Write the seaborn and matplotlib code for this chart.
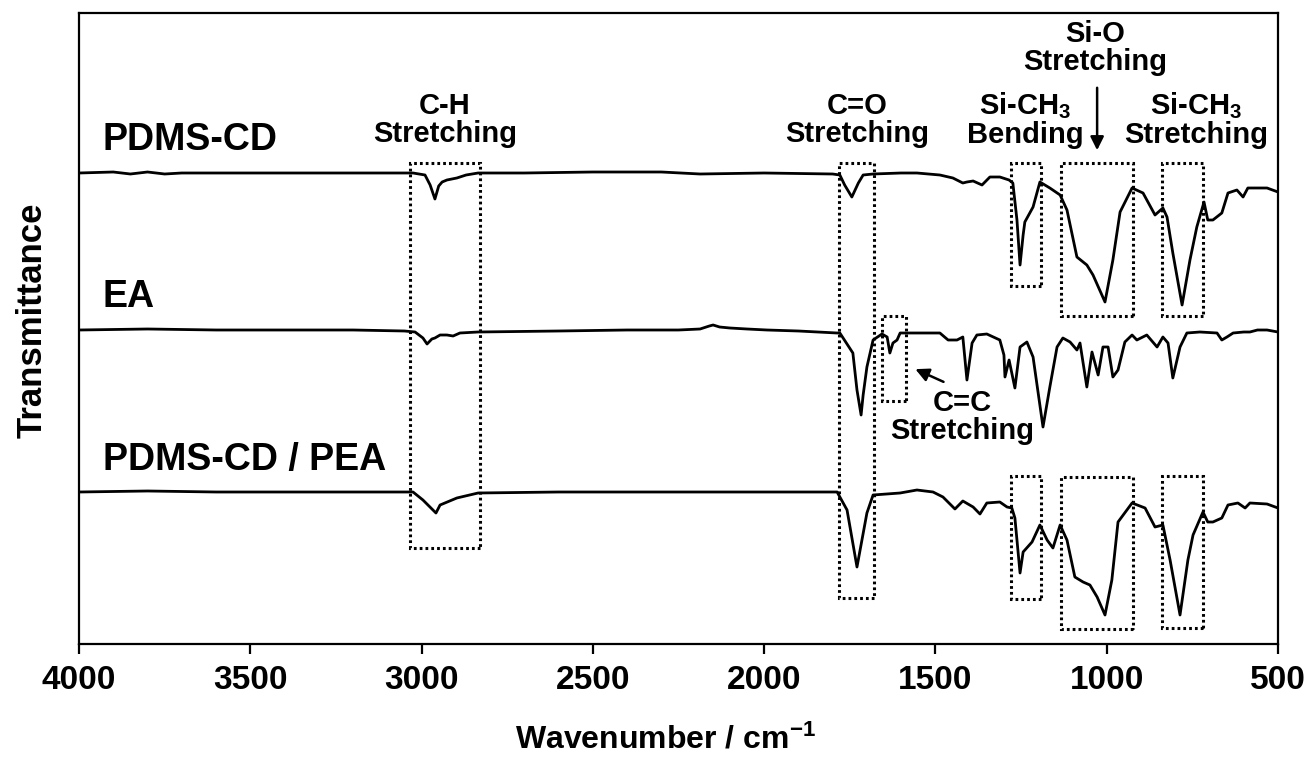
import matplotlib
matplotlib.use("Agg")
import matplotlib.pyplot as plt
from matplotlib.patches import Rectangle
import seaborn as sns
import pandas as pd

# ---------------- data ----------------
pdms_wn = [4000, 3900, 3850, 3800, 3750, 3700, 3600, 3400, 3200, 3025, 2990, 2975, 2961, 2950, 2940,
           2926, 2897, 2870, 2835, 2700, 2500, 2300, 2187, 2000, 1800, 1779, 1765, 1744, 1725, 1711,
           1682, 1600, 1554, 1487, 1449, 1420, 1408, 1390, 1364, 1341, 1312, 1285, 1274, 1262, 1253,
           1244, 1239, 1215, 1195, 1166, 1136, 1116, 1087, 1058, 1040, 1005, 982, 961, 926, 894, 859,
           836, 824, 807, 780, 757, 737, 716, 705, 690, 664, 646, 620, 602, 588, 532, 500]
pdms_T = [471, 472, 470, 472, 470, 471, 471, 471, 471, 471, 469, 459, 445, 458, 462,
          464, 466, 469, 471, 471, 472, 472, 470, 471, 470, 469, 459, 447, 461, 469,
          470, 471, 471, 469, 466, 461, 462, 463, 459, 467, 467, 464, 461, 424, 379,
          409, 422, 437, 462, 456, 449, 434, 387, 379, 369, 342, 384, 432, 456, 451, 429,
          436, 427, 391, 339, 384, 417, 442, 424, 424, 431, 451, 454, 447, 456, 456, 452]

ea_wn = [4000, 3800, 3600, 3400, 3200, 3050, 3019, 2996, 2984, 2970, 2961, 2946, 2926, 2908, 2888,
         2835, 2600, 2400, 2250, 2187, 2160, 2149, 2130, 2100, 2050, 1992, 1900, 1787, 1779, 1741,
         1729, 1717, 1711, 1700, 1682, 1656, 1641, 1633, 1624, 1612, 1603, 1487, 1463, 1437, 1420,
         1408, 1393, 1379, 1350, 1312, 1300, 1297, 1285, 1268, 1253, 1233, 1215, 1186, 1166, 1145,
         1128, 1107, 1087, 1078, 1058, 1043, 1025, 1011, 996, 982, 967, 947, 926, 912, 883, 853,
         836, 821, 807, 786, 766, 728, 678, 664, 649, 631, 600, 582, 560, 532, 500]
ea_T = [314, 315, 314, 314, 314, 313, 312, 306, 300, 305, 306, 309, 309, 308, 311,
        312, 313, 314, 314, 315, 318, 319, 317, 316, 315, 314, 313, 311, 311, 291,
        254, 229, 249, 277, 304, 310, 307, 291, 301, 304, 311, 311, 304, 304, 307,
        264, 301, 309, 310, 304, 289, 267, 284, 256, 297, 302, 287, 217, 257, 297,
        306, 302, 294, 301, 257, 292, 269, 297, 297, 267, 274, 302, 309, 304, 309, 297,
        307, 301, 266, 297, 311, 312, 311, 304, 307, 311, 312, 312, 314, 314, 312]

pea_wn = [4000, 3800, 3600, 3400, 3200, 3025, 2996, 2958, 2946, 2897, 2835, 2600, 2400, 2187, 2000,
          1787, 1758, 1729, 1700, 1682, 1603, 1554, 1507, 1478, 1443, 1420, 1390, 1370, 1350, 1312,
          1291, 1277, 1268, 1253, 1244, 1218, 1195, 1174, 1157, 1136, 1116, 1093, 1069, 1049, 1028,
          1005, 985, 967, 926, 888, 859, 836, 815, 786, 763, 748, 719, 705, 690, 664, 646, 617, 596,
          582, 532, 500]
pea_T = [152, 153, 152, 152, 152, 152, 144, 131, 139, 146, 151, 152, 152, 152, 152,
         152, 134, 77, 131, 149, 151, 154, 152, 147, 135, 143, 137, 130, 141, 142,
         137, 136, 126, 71, 92, 102, 119, 104, 96, 119, 104, 67, 62, 59, 47,
         29, 64, 122, 141, 136, 117, 119, 84, 29, 84, 109, 132, 122, 122, 126, 139, 141, 136,
         141, 140, 136]

series_names = ["PDMS-CD", "EA", "PDMS-CD / PEA"]
x_ticks = [4000, 3500, 3000, 2500, 2000, 1500, 1000, 500]

# highlighted bands: (wn_high, wn_low, T_top, T_bottom)
bands = [(3034, 2829, 481, 96),    # C-H
         (1782, 1679, 481, 46),    # C=O
         (1656, 1586, 328, 243),   # C=C
         (1279, 1192, 481, 358),   # Si-CH3 bending (top)
         (1134, 923, 481, 328),    # Si-O (top)
         (839, 719, 481, 328),     # Si-CH3 stretching (top)
         (1279, 1192, 168, 45),    # Si-CH3 bending (bottom)
         (1134, 923, 167, 15),     # Si-O (bottom)
         (839, 719, 168, 16)]      # Si-CH3 stretching (bottom)

# ---------------- style ----------------
sns.set_theme(style="ticks")
plt.rcParams['font.family'] = ['Liberation Sans', 'DejaVu Sans']
plt.rcParams['font.weight'] = 'bold'
plt.rcParams['text.color'] = 'black'
plt.rcParams['axes.labelcolor'] = 'black'
plt.rcParams['xtick.color'] = 'black'
plt.rcParams['ytick.color'] = 'black'
plt.rcParams['axes.edgecolor'] = 'black'
plt.rcParams['mathtext.fontset'] = 'custom'
plt.rcParams['mathtext.rm'] = 'Liberation Sans:bold'
plt.rcParams['mathtext.bf'] = 'Liberation Sans:bold'
plt.rcParams['mathtext.it'] = 'Liberation Sans:bold'

W, H = 1315, 759
fig = plt.figure(figsize=(W / 100, H / 100), dpi=100)
ax = fig.add_axes([79 / W, 1 - 644 / H, 1199 / W, 631 / H])

frames = []
for name, wn, T in [(series_names[0], pdms_wn, pdms_T),
                    (series_names[1], ea_wn, ea_T),
                    (series_names[2], pea_wn, pea_T)]:
    frames.append(pd.DataFrame({"Wavenumber": wn, "T": T, "sample": name}))
df = pd.concat(frames, ignore_index=True)

for name in series_names:
    sub = df[df["sample"] == name]
    sns.lineplot(data=sub, x="Wavenumber", y="T", ax=ax, color="black",
                 linewidth=2.0, sort=False, estimator=None)

ax.set_xlim(4000, 500)
ax.set_ylim(0, 631)
ax.set_xticks(x_ticks)
ax.set_xticklabels([str(t) for t in x_ticks], fontsize=24, fontweight='bold', color='black')
ax.set_yticks([])
for s in ax.spines.values():
    s.set_visible(True)
    s.set_linewidth(1.6)
    s.set_color("black")
ax.tick_params(axis='x', direction='out', length=7, width=1.6, color='black',
               labelcolor='black', pad=8)

ax.set_xlabel(r"Wavenumber / cm$^{-1}$", fontsize=23, fontweight='bold', color='black')
ax.xaxis.set_label_coords((665 - 79) / 1199, (644 - 740) / 631)
ax.xaxis.label.set_va('center')
ax.set_ylabel("Transmittance", fontsize=25, fontweight='bold', color='black')
ax.yaxis.set_label_coords((32 - 79) / 1199, (644 - 320) / 631)
ax.yaxis.label.set_va('center')

# sample labels
lab_kw = dict(fontsize=27, fontweight='bold', va='center', ha='left', color='black')
ax.text(3930, 504, series_names[0], **lab_kw)
ax.text(3930, 347, series_names[1], **lab_kw)
ax.text(3930, 184, series_names[2], **lab_kw)

# dotted boxes
for x0, x1, yt, yb in bands:
    ax.add_patch(Rectangle((x1, yb), x0 - x1, yt - yb, fill=False, edgecolor='black',
                           linewidth=2.2, linestyle=(0, (0.9, 1.0))))

ann_kw = dict(fontsize=21, fontweight='bold', ha='center', va='center',
              linespacing=1.0, color='black')
ax.text(2932, 524, "C-H\nStretching", **ann_kw)
ax.text(1729, 524, "C=O\nStretching", **ann_kw)
ax.text(1239, 524, "Si-CH$_3$\nBending", **ann_kw)
ax.text(1034, 596, "Si-O\nStretching", **ann_kw)
ax.text(740, 524, "Si-CH$_3$\nStretching", **ann_kw)
ax.text(1422, 227, "C=C\nStretching", **ann_kw)

ax.annotate("", xy=(1028, 491), xytext=(1028, 559),
            arrowprops=dict(arrowstyle='-|>', color='black', lw=1.8, mutation_scale=20))
ax.annotate("", xy=(1566, 276), xytext=(1469, 261),
            arrowprops=dict(arrowstyle='-|>', color='black', lw=1.8, mutation_scale=20))

fig.savefig("out.png", dpi=100)
